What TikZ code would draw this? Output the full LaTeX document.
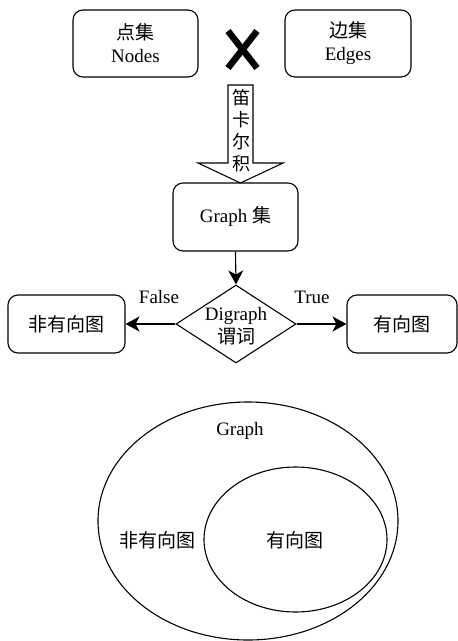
\documentclass[tikz,border=0pt]{standalone}
\usepackage{fontspec}
\setmainfont{Liberation Serif}
\newfontfamily\cjk{Noto Sans CJK SC}
\usetikzlibrary{shapes.geometric,arrows.meta}
\tikzset{
  txt/.style={font=\fontsize{19}{23}\selectfont, align=center, inner sep=0pt},
  rbox/.style={txt, draw, line width=1.1pt, rounded corners=10pt},
  conn/.style={line width=1.1pt, -{Stealth[length=14pt,width=15pt,inset=4pt]}},
  venn/.style={draw, ellipse, line width=1.1pt, inner sep=0pt},
}
\begin{document}
\begin{tikzpicture}[x=1pt,y=-1pt]
\useasboundingbox (0,0) rectangle (458,641);
% top boxes
\node[rbox, minimum width=125pt, minimum height=67pt] (nodes) at (135.5,43.5) {{\cjk 点集}\\Nodes};
\node[rbox, minimum width=126pt, minimum height=67pt] (edges) at (348,43.5) {{\cjk 边集}\\Edges};
% cross
\draw[line width=6.5pt] (228,31) -- (257,68);
\draw[line width=6.5pt] (257,31) -- (228,68);
% block arrow
\draw[line width=1.1pt, fill=white] (228,85) -- (253,85) -- (253,163) -- (283,163) -- (240.5,183) -- (198,163) -- (228,163) -- cycle;
\node[txt, font=\fontsize{18}{22}\selectfont\cjk] (prod) at (241,131) {笛\\卡\\尔\\积};
% graph box
\node[rbox, minimum width=125pt, minimum height=68pt] (graph) at (235.5,217) {Graph {\cjk 集}};
% diamond
\node[draw, diamond, line width=1.1pt, minimum width=120pt, minimum height=78pt, inner sep=0pt] (pred) at (236,324) {};
\node[txt] (predt) at (236,326) {Digraph\\{\cjk 谓词}};
% result boxes
\node[rbox, minimum width=117pt, minimum height=58pt] (undir) at (66.5,324) {\cjk 非有向图};
\node[rbox, minimum width=110pt, minimum height=58pt] (dir) at (402,324) {\cjk 有向图};
% connectors
\draw[conn] (graph.south) -- (pred.north);
\draw[conn] (pred.west) -- (undir.east);
\draw[conn] (pred.east) -- (dir.west);
\node[txt] (f) at (159,297) {False};
\node[txt] (t) at (312,297) {True};
% venn
\node[venn, minimum width=300pt, minimum height=238pt] (outer) at (248,521) {};
\node[venn, minimum width=183pt, minimum height=145pt] (inner) at (295.5,539.5) {};
\node[txt] (gl) at (240,431) {Graph};
\node[txt] (ul) at (157,540) {\cjk 非有向图};
\node[txt] (dl) at (295,540) {\cjk 有向图};
\end{tikzpicture}
\end{document}
